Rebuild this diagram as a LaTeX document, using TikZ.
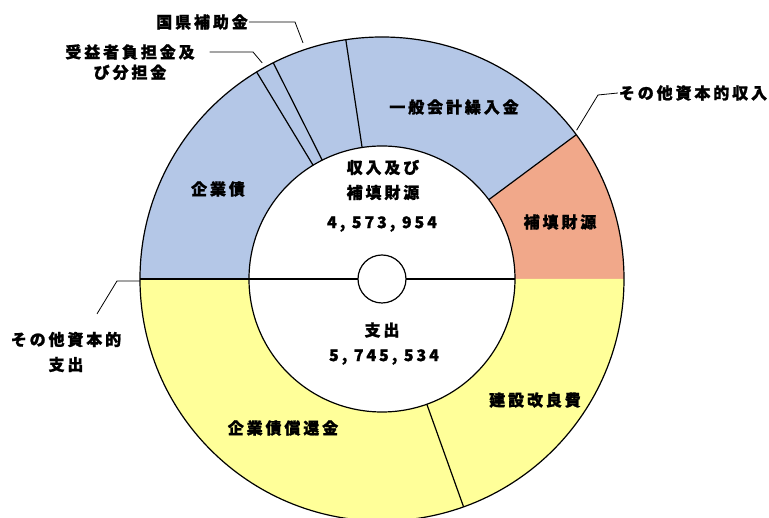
\documentclass[tikz,border=0pt]{standalone}
\usepackage{fontspec}
\setmainfont{Noto Sans CJK JP}[LetterSpace=18, BoldFeatures={FakeBold=1.2}]
\usetikzlibrary{positioning}
\definecolor{azul}{RGB}{180,199,231}
\definecolor{naranja}{RGB}{241,168,138}
\definecolor{amarillo}{RGB}{255,255,153}

\begin{document}
\begin{tikzpicture}[x=1pt, y=1pt,
    etiq/.style={font=\bfseries\fontsize{16}{25}\selectfont,
        align=center, inner sep=1pt, outer sep=0pt},
    cifra/.style={etiq, font=\bfseries\fontsize{16}{20}\selectfont},
    anillo/.style={line width=1.2pt},
    guia/.style={line width=0.8pt},
    node distance = 3pt
    ]
    \useasboundingbox (-382,-239) rectangle (387,279);
    \def\ro{242}\def\ri{133}\def\rc{24}
    % sectores
    \foreach \a/\b/\col in {0/36.6/naranja, 36.6/180/azul, 180/360/amarillo}
        \fill[\col] (\a:\ro) arc[start angle=\a, end angle=\b, radius=\ro]
            -- (\b:\ri) arc[start angle=\b, end angle=\a, radius=\ri] -- cycle;
    \foreach \a in {36.6, 98.6, 116.7, 121.2, -70.3}
        \draw[anillo] (\a:\ri) -- (\a:\ro);
    \draw[anillo] (0,0) circle[radius=\ro];
    \draw[anillo] (0,0) circle[radius=\ri];
    \draw[anillo] (-\ro,0) -- (-\ri,0);
    \draw[line width=2.5pt] (-\ri,0) -- (-\rc,0);
    \draw[anillo] (\rc,0) -- (\ri,0);
    \draw[anillo, fill=white] (0,0) circle[radius=\rc];

    % rotulos del anillo
    \node[etiq] (ingresos) at (1,99) {収入及び\\補填財源};
    \node[cifra] (ningresos) at (0,55) {4, 573, 954};
    \node[etiq] (gastos) at (0,-51) {支出};
    \node[cifra] (ngastos) at (2,-78) {5, 745, 534};
    \node[etiq] (ippan) at (72,172) {一般会計繰入金};
    \node[etiq] (hoten) at (178,57) {補填財源};
    \node[etiq] (kigyosai) at (-164,90) {企業債};
    \node[etiq] (kensetsu) at (153,-121) {建設改良費};
    \node[etiq] (shokan) at (-99,-149) {企業債償還金};

    % rotulos de fuera
    \node[etiq] (kokken) at (-180,257) {国県補助金};
    \node[etiq] (juekisha) at (-252,227) {受益者負担金及};
    \node[etiq, below=3pt of juekisha] (juekisha2) {び分担金};
    \node[etiq] (otrosi) at (311,186) {その他資本的収入};
    \node[etiq] (otrosg) at (-316,-73) {その他資本的\\支出};

    \coordinate (k1) at (-87,257);
    \coordinate (k2) at (108.5:249);
    \coordinate (j1) at (-129,227);
    \coordinate (j2) at (119:247);
    \coordinate (i1) at (216,184);
    \coordinate (i2) at (37.4:245);
    \coordinate (g0) at ([shift={(31pt,17pt)}]otrosg.north);
    \coordinate (g1) at (-265,-2);
    \coordinate (g2) at (-242,-2);
    \draw[guia] (kokken.east) -- (k1) -- (k2);
    \draw[guia, shorten <=14pt] (juekisha.east) -- (j1) -- (j2);
    \draw[guia] (otrosi.west) -- (i1) -- (i2);
    \draw[guia] (g0) -- (g1) -- (g2);
\end{tikzpicture}
\end{document}
